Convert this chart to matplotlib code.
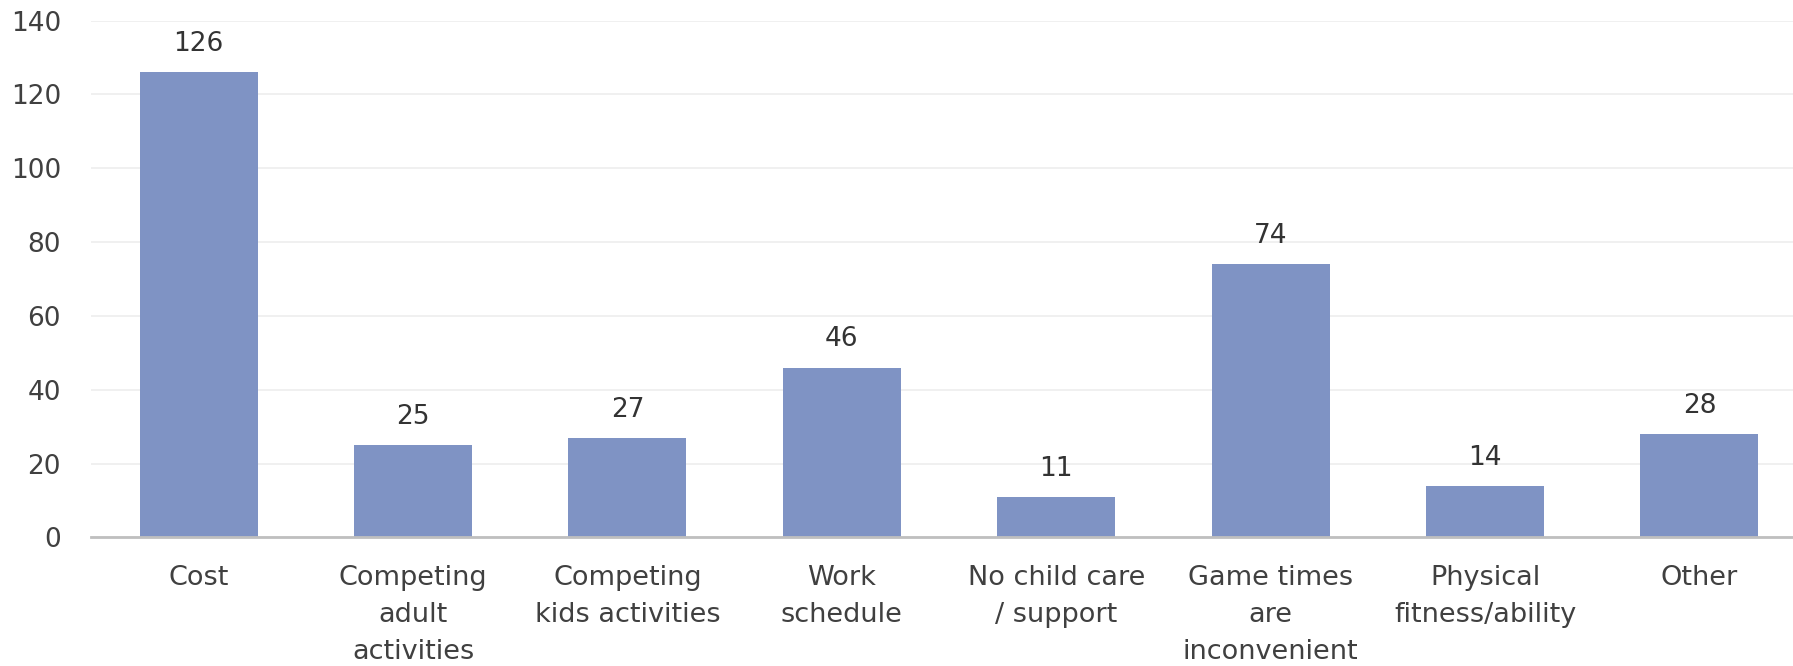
import matplotlib
matplotlib.use('Agg')
import matplotlib.pyplot as plt
import numpy as np

# Datele graficului
categories = ['Cost', 'Competing\nadult\nactivities', 'Competing\nkids activities',
              'Work\nschedule', 'No child care\n/ support', 'Game times\nare\ninconvenient',
              'Physical\nfitness/ability', 'Other']
counts = [126, 25, 27, 46, 11, 74, 14, 28]
y_ticks = [0, 20, 40, 60, 80, 100, 120, 140]

plt.rcParams['font.family'] = ['DejaVu Sans']

fig = plt.figure(figsize=(17.93, 6.66), dpi=100)
ax = fig.add_axes([0.051, 0.193, 0.9566, 0.776])

x = np.arange(len(categories))
bars = ax.bar(x, counts, width=0.55, color='#7F93C4', zorder=3)

# Etichete de valori deasupra barelor
for xi, v in zip(x, counts):
    ax.annotate(str(v), (xi, v), xytext=(0, 11), textcoords='offset points',
                ha='center', va='bottom', fontsize=19, color='#333333')

ax.set_xlim(-0.5, len(categories) - 0.5)
ax.set_ylim(0, 140)
ax.set_yticks(y_ticks)
ax.set_xticks(x)
ax.set_xticklabels(categories, fontsize=19.5, color='#404040', linespacing=1.54)
ax.tick_params(axis='y', labelsize=19, labelcolor='#404040', length=0, pad=22)
ax.tick_params(axis='x', length=0, pad=20)

ax.grid(axis='y', color='#EDEDED', linewidth=1.2, zorder=0)
for s in ['top', 'right', 'left']:
    ax.spines[s].set_visible(False)
ax.spines['bottom'].set_color('#BFBFBF')
ax.spines['bottom'].set_linewidth(2)
ax.spines['bottom'].set_zorder(4)

fig.savefig('out.png', dpi=100)
